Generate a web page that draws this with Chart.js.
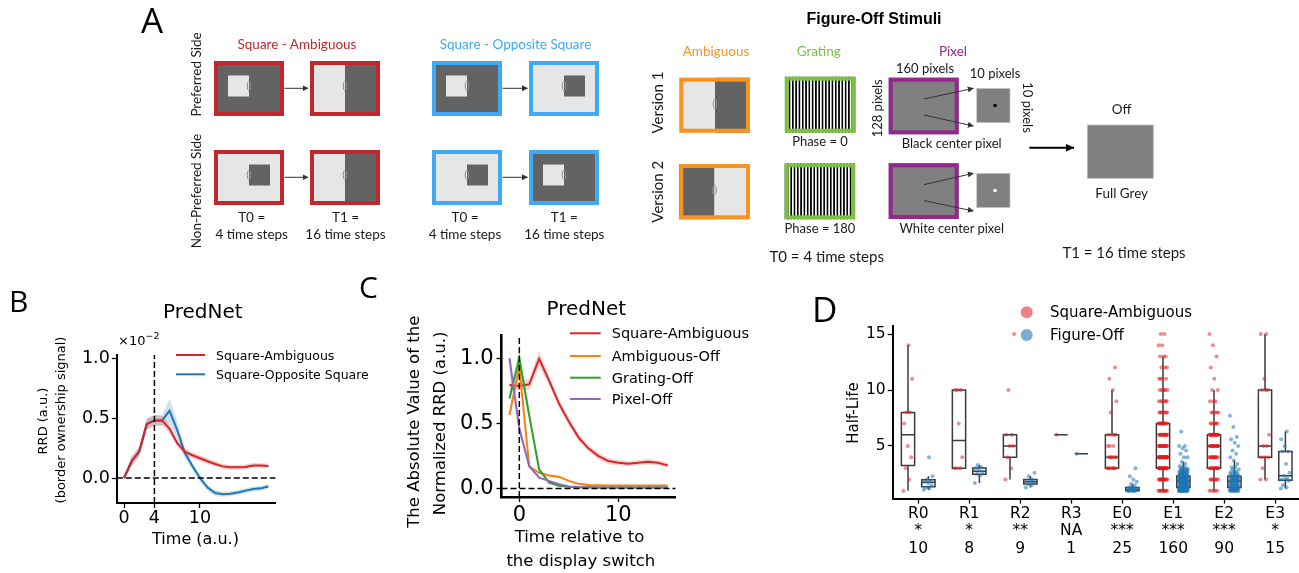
<!DOCTYPE html>
<html>
<head>
<meta charset="utf-8">
<script src="https://cdn.jsdelivr.net/npm/chart.js"></script>
<style>
  html, body { margin: 0; padding: 0; background: #fff; overflow: hidden; }
  #page { position: relative; width: 1299px; height: 573px; overflow: hidden; }
  canvas.plot { position: absolute; }
  #overlay { position: absolute; left: 0; top: 0; z-index: 2; pointer-events: none; }
</style>
</head>
<body>
<div id="page">
  <canvas id="chartB" class="plot"></canvas>
  <canvas id="chartC" class="plot"></canvas>
  <canvas id="chartD" class="plot"></canvas>
  <svg id="overlay" width="1299" height="573"></svg>
</div>
<script>
// ---------- panel B: RRD time course (x 1e-2) ----------
const bTime = [0, 1, 2, 3, 4, 5, 6, 7, 8, 9, 10, 11, 12, 13, 14, 15, 16, 17, 18, 19];
const bSquareAmbiguous = [0, 0.14, 0.22, 0.45, 0.48, 0.48, 0.41, 0.29, 0.22, 0.19, 0.165, 0.14, 0.117, 0.097, 0.089, 0.089, 0.092, 0.105, 0.105, 0.10];
const bSquareAmbiguousSem = [0.01, 0.04, 0.04, 0.045, 0.045, 0.04, 0.035, 0.03, 0.03, 0.025, 0.025, 0.025, 0.02, 0.02, 0.02, 0.02, 0.02, 0.02, 0.02, 0.02];
const bSquareOpposite = [0, 0.14, 0.22, 0.45, 0.48, 0.48, 0.56, 0.40, 0.21, 0.10, 0.0, -0.08, -0.125, -0.135, -0.13, -0.12, -0.105, -0.092, -0.086, -0.07];
const bSquareOppositeSem = [0.01, 0.04, 0.04, 0.045, 0.045, 0.04, 0.10, 0.07, 0.04, 0.03, 0.03, 0.025, 0.025, 0.02, 0.02, 0.02, 0.02, 0.02, 0.02, 0.02];

// ---------- panel C: |normalized RRD| around the display switch ----------
const cTime = [-1, 0, 1, 2, 3, 4, 5, 6, 7, 8, 9, 10, 11, 12, 13, 14, 15];
const cSquareAmbiguous = [0.795, 0.787, 0.80, 0.995, 0.83, 0.653, 0.514, 0.39, 0.306, 0.248, 0.21, 0.197, 0.19, 0.197, 0.205, 0.197, 0.177];
const cSquareAmbiguousSem = [0.03, 0.035, 0.045, 0.06, 0.04, 0.035, 0.03, 0.03, 0.025, 0.025, 0.025, 0.02, 0.02, 0.02, 0.02, 0.02, 0.02];
const cAmbiguousOff = [0.565, 0.93, 0.17, 0.12, 0.10, 0.09, 0.058, 0.035, 0.026, 0.024, 0.023, 0.023, 0.022, 0.022, 0.022, 0.022, 0.022];
const cAmbiguousOffSem = [0.04, 0.04, 0.012, 0.01, 0.01, 0.01, 0.008, 0.006, 0.005, 0.005, 0.005, 0.005, 0.005, 0.005, 0.005, 0.005, 0.005];
const cGratingOff = [0.69, 1.0, 0.56, 0.147, 0.045, 0.02, 0.012, 0.009, 0.008, 0.007, 0.007, 0.007, 0.007, 0.007, 0.007, 0.007, 0.007];
const cGratingOffSem = [0.04, 0.07, 0.03, 0.012, 0.008, 0.005, 0.004, 0.004, 0.004, 0.004, 0.004, 0.004, 0.004, 0.004, 0.004, 0.004, 0.004];
const cPixelOff = [1.0, 0.46, 0.17, 0.083, 0.058, 0.033, 0.015, 0.01, 0.008, 0.007, 0.007, 0.007, 0.007, 0.007, 0.007, 0.007, 0.007];
const cPixelOffSem = [0.1, 0.04, 0.012, 0.008, 0.006, 0.005, 0.004, 0.004, 0.004, 0.004, 0.004, 0.004, 0.004, 0.004, 0.004, 0.004, 0.004];

// ---------- panel D: half-life per layer, [value, number of units] ----------
const dCategories = ['R0', 'R1', 'R2', 'R3', 'E0', 'E1', 'E2', 'E3'];
const dStars = ['*', '*', '**', 'NA', '***', '***', '***', '*'];
const dCounts = [10, 8, 9, 1, 25, 160, 90, 15];
const halfLifeSquareAmbiguous = [
  [[1, 1], [2, 1], [3, 1], [4, 1], [5, 1], [7, 1], [8, 2], [11, 1], [14, 1]],
  [[3, 3], [4, 1], [7, 1], [10, 3]],
  [[2, 1], [3, 1], [4, 1], [5, 2], [6, 2], [10, 1], [15, 1]],
  [[6, 1]],
  [[3, 7], [4, 6], [5, 3], [6, 4], [8, 1], [9, 1], [10, 1], [11, 1], [12, 1]],
  [[1, 10], [2, 14], [3, 22], [4, 36], [5, 18], [6, 14], [7, 12], [8, 8], [9, 6], [10, 6], [11, 4], [12, 3], [13, 3], [14, 2], [15, 2]],
  [[1, 5], [2, 8], [3, 12], [4, 12], [5, 14], [6, 18], [7, 6], [8, 5], [9, 3], [10, 2], [11, 1], [12, 1], [13, 1], [14, 1], [15, 1]],
  [[2, 2], [3, 1], [4, 3], [5, 2], [6, 1], [10, 3], [11, 1], [15, 2]]
];
const halfLifeFigureOff = [
  [[1.1, 1], [1.2, 1], [1.3, 1], [1.5, 1], [1.7, 1], [1.8, 1], [1.9, 1], [2.0, 1], [2.3, 1], [4.0, 1]],
  [[1.7, 1], [2.4, 1], [2.5, 1], [2.7, 1], [2.8, 1], [3.0, 1], [3.1, 1], [3.3, 1]],
  [[1.3, 1], [1.5, 1], [1.6, 1], [1.8, 2], [1.9, 1], [2.0, 1], [2.3, 1], [2.6, 1]],
  [[4.3, 1]],
  [[1.0, 7], [1.1, 6], [1.2, 4], [1.3, 2], [1.5, 1], [1.6, 1], [1.8, 1], [2.0, 1], [2.3, 1], [3.0, 1]],
  [[1.0, 18], [1.1, 12], [1.2, 8], [1.3, 6], [1.4, 6], [1.5, 8], [1.6, 7], [1.7, 7], [1.8, 8], [1.9, 6], [2.0, 8], [2.1, 6], [2.2, 8], [2.3, 12],
   [2.4, 5], [2.5, 5], [2.6, 4], [2.7, 4], [2.8, 4], [2.9, 3], [3.0, 3], [3.2, 2], [3.4, 1], [3.6, 1], [4.0, 2], [4.3, 1], [4.6, 1], [4.8, 1], [5.0, 2], [6.3, 1]],
  [[1.0, 10], [1.1, 6], [1.2, 4], [1.3, 4], [1.4, 4], [1.5, 5], [1.6, 4], [1.7, 4], [1.8, 4], [1.9, 4], [2.0, 5], [2.1, 4], [2.2, 4], [2.3, 6],
   [2.5, 4], [2.7, 3], [2.9, 2], [3.1, 2], [3.4, 1], [3.7, 1], [4.0, 1], [4.3, 1], [4.6, 1], [5.0, 1], [5.3, 1], [5.6, 1], [5.8, 1], [6.7, 1], [7.7, 1]],
  [[1.2, 1], [1.3, 1], [1.5, 1], [1.9, 1], [2.0, 2], [2.1, 1], [2.35, 1], [2.6, 1], [3.4, 1], [4.5, 2], [5.0, 1], [5.6, 1], [6.3, 1]]
];

Chart.defaults.font.family = 'DejaVu Sans';
Chart.defaults.color = '#000';

// put the canvas at box=[left, top, w, h] and keep the plot area at area=[x0, y0, x1, y1]
function fixedArea(id, box, area) {
  const cv = document.getElementById(id);
  cv.width = box[2];
  cv.height = box[3];
  cv.style.left = box[0] + 'px';
  cv.style.top = box[1] + 'px';
  return {
    padding: { left: 0, top: area[1] - box[1], right: box[0] + box[2] - area[2], bottom: 0 },
    yWidth: area[0] - box[0],
    xHeight: box[1] + box[3] - area[3]
  };
}

function linearAxis(min, max, tickValues, o) {
  return {
    type: 'linear', min: min, max: max,
    afterBuildTicks: s => { s.ticks = tickValues.map(v => ({ value: v })); },
    afterFit: s => {
      if (o.width != null) s.width = o.width;
      if (o.height != null) s.height = o.height;
    },
    ticks: {
      color: '#000', padding: o.pad, autoSkip: false, maxRotation: 0,
      font: { family: 'DejaVu Sans', size: o.size, lineHeight: o.lineHeight || 1.2 },
      callback: o.format
    },
    grid: { drawOnChartArea: false, drawTicks: true, tickLength: 5, tickWidth: 1.3, tickColor: '#000' },
    border: { display: true, color: '#000', width: o.spine || 2 }
  };
}

function rgba(hex, a) {
  const n = parseInt(hex.slice(1), 16);
  return `rgba(${n >> 16},${(n >> 8) & 255},${n & 255},${a})`;
}

// a mean line plus its shaded band (upper edge, then lower edge filled to it)
function lineWithBand(xs, ys, err, color, alpha) {
  const pts = arr => arr.map((v, i) => ({ x: xs[i], y: v }));
  const none = 'rgba(0,0,0,0)';
  return {
    line: { data: pts(ys), borderColor: color, borderWidth: 2, pointRadius: 0, fill: false, tension: 0 },
    band: [
      { data: pts(ys.map((v, i) => v + err[i])), borderColor: none, borderWidth: 1, pointRadius: 0, fill: false },
      { data: pts(ys.map((v, i) => v - err[i])), borderColor: none, borderWidth: 1, pointRadius: 0, fill: '-1', backgroundColor: rgba(color, alpha) }
    ]
  };
}

function dashed(points) {
  return { data: points, borderColor: '#000', borderWidth: 1.5, borderDash: [6, 3], pointRadius: 0, fill: false };
}

const quiet = { legend: { display: false }, tooltip: { enabled: false } };

// ---------- chart B ----------
{
  const xMin = -0.95, xMax = 19.95, yMin = -0.208, yMax = 1.025;
  const L = fixedArea('chartB', [60, 335, 240, 200], [116.8, 355, 275.6, 503]);
  const red = lineWithBand(bTime, bSquareAmbiguous, bSquareAmbiguousSem, '#d62728', 0.22);
  const blue = lineWithBand(bTime, bSquareOpposite, bSquareOppositeSem, '#1f77b4', 0.22);
  new Chart(document.getElementById('chartB'), {
    type: 'line',
    data: {
      datasets: [
        dashed([{ x: 4, y: yMin }, { x: 4, y: yMax }]),
        dashed([{ x: xMin, y: 0 }, { x: xMax, y: 0 }]),
        red.line, blue.line,
        ...red.band, ...blue.band
      ]
    },
    options: {
      responsive: false, animation: false, layout: { padding: L.padding }, plugins: quiet,
      scales: {
        x: linearAxis(xMin, xMax, [0, 4, 10], { height: L.xHeight, size: 17.5, pad: 0, format: v => String(v) }),
        y: linearAxis(yMin, yMax, [0, 0.5, 1.0], { width: L.yWidth, size: 17.5, pad: 2, format: v => v.toFixed(1) })
      }
    }
  });
}

// ---------- chart C ----------
{
  const xMin = -1.8, xMax = 15.8, yMin = -0.066, yMax = 1.174;
  const L = fixedArea('chartC', [445, 320, 245, 210], [501.5, 333, 675.7, 497]);
  const sq = lineWithBand(cTime, cSquareAmbiguous, cSquareAmbiguousSem, '#d62728', 0.2);
  const amb = lineWithBand(cTime, cAmbiguousOff, cAmbiguousOffSem, '#ff7f0e', 0.2);
  const grat = lineWithBand(cTime, cGratingOff, cGratingOffSem, '#2ca02c', 0.2);
  const pix = lineWithBand(cTime, cPixelOff, cPixelOffSem, '#9467bd', 0.2);
  new Chart(document.getElementById('chartC'), {
    type: 'line',
    data: {
      datasets: [
        dashed([{ x: 0, y: yMin }, { x: 0, y: yMax }]),
        dashed([{ x: xMin, y: 0 }, { x: xMax, y: 0 }]),
        pix.line, grat.line, amb.line, sq.line,
        ...sq.band, ...amb.band, ...grat.band, ...pix.band
      ]
    },
    options: {
      responsive: false, animation: false, layout: { padding: L.padding }, plugins: quiet,
      scales: {
        x: linearAxis(xMin, xMax, [0, 10], { height: L.xHeight, size: 21, pad: 0.5, spine: 2.6, format: v => String(v) }),
        y: linearAxis(yMin, yMax, [0, 0.5, 1.0], { width: L.yWidth, size: 21, pad: 3, spine: 2.6, format: v => v.toFixed(1) })
      }
    }
  });
}

// ---------- chart D ----------
function expand(tally) {
  const out = [];
  tally.forEach(([v, n]) => { for (let k = 0; k < n; k++) out.push(v); });
  return out;
}
function quantile(s, q) {
  const pos = (s.length - 1) * q, lo = Math.floor(pos), hi = Math.ceil(pos);
  return s[lo] + (s[hi] - s[lo]) * (pos - lo);
}
function boxStats(values) {
  const s = values.slice().sort((a, b) => a - b);
  const q1 = quantile(s, 0.25), med = quantile(s, 0.5), q3 = quantile(s, 0.75), iqr = q3 - q1;
  const lo = s.find(v => v >= q1 - 1.5 * iqr);
  const hi = s.slice().reverse().find(v => v <= q3 + 1.5 * iqr);
  return { q1, med, q3, lo, hi };
}
const boxOffset = 0.2, boxWidth = 0.26, jitter = 0.09;

function stripPoints(groups, offset) {
  const pts = [];
  groups.forEach((tally, i) => {
    expand(tally).forEach((v, k) => {
      const j = ((k * 0.6180339887) % 1 - 0.5) * 2 * jitter;
      pts.push({ x: i + offset + j, y: v });
    });
  });
  return pts;
}

const boxPlugin = {
  id: 'halfLifeBoxes',
  beforeDatasetsDraw(chart) {
    const { ctx, scales: { x, y } } = chart;
    ctx.save();
    ctx.strokeStyle = '#3c3c3c';
    ctx.lineWidth = 1.5;
    [[halfLifeSquareAmbiguous, -boxOffset], [halfLifeFigureOff, boxOffset]].forEach(([groups, off]) => {
      groups.forEach((tally, i) => {
        const st = boxStats(expand(tally));
        const xl = x.getPixelForValue(i + off - boxWidth / 2);
        const xr = x.getPixelForValue(i + off + boxWidth / 2);
        const xc = x.getPixelForValue(i + off);
        const yq1 = y.getPixelForValue(st.q1), yq3 = y.getPixelForValue(st.q3);
        ctx.beginPath();
        ctx.rect(xl, yq3, xr - xl, yq1 - yq3);
        ctx.moveTo(xl, y.getPixelForValue(st.med));
        ctx.lineTo(xr, y.getPixelForValue(st.med));
        ctx.moveTo(xc, yq3);
        ctx.lineTo(xc, y.getPixelForValue(st.hi));
        ctx.moveTo(xc, yq1);
        ctx.lineTo(xc, y.getPixelForValue(st.lo));
        ctx.stroke();
      });
    });
    ctx.restore();
  }
};

{
  const L = fixedArea('chartD', [840, 310, 480, 260], [892.7, 326.2, 1300.7, 498.6]);
  new Chart(document.getElementById('chartD'), {
    type: 'scatter',
    data: {
      datasets: [
        { data: stripPoints(halfLifeSquareAmbiguous, -boxOffset), backgroundColor: 'rgba(228,26,28,0.5)', borderWidth: 0, pointRadius: 2 },
        { data: stripPoints(halfLifeFigureOff, boxOffset), backgroundColor: 'rgba(31,119,180,0.55)', borderWidth: 0, pointRadius: 2 }
      ]
    },
    options: {
      responsive: false, animation: false, layout: { padding: L.padding }, plugins: quiet,
      scales: {
        x: linearAxis(-0.5, 7.5, [0, 1, 2, 3, 4, 5, 6, 7], {
          height: L.xHeight, size: 15.5, lineHeight: 1.15, pad: 1,
          format: (v, i) => [dCategories[i], dStars[i], String(dCounts[i])]
        }),
        y: linearAxis(0.3, 15.7, [5, 10, 15], { width: L.yWidth, size: 15.5, pad: 2, format: v => String(v) })
      }
    },
    plugins: [boxPlugin]
  });
}

// ---------- text, legends and the stimulus sketches ----------
const NS = 'http://www.w3.org/2000/svg';
const svg = document.getElementById('overlay');
function add(tag, attrs, parent, content) {
  const e = document.createElementNS(NS, tag);
  for (const k in attrs) e.setAttribute(k, attrs[k]);
  if (content != null) e.textContent = content;
  (parent || svg).appendChild(e);
  return e;
}
function text(str, x, y, size, o = {}) {
  const a = {
    x: x, y: y, 'font-size': size, 'font-family': o.family || 'Lato', fill: o.color || '#1a1a1a',
    'text-anchor': o.anchor || 'middle', 'dominant-baseline': o.baseline || 'central'
  };
  if (o.weight) a['font-weight'] = o.weight;
  if (o.rotate) a.transform = `rotate(${o.rotate} ${x} ${y})`;
  return add('text', a, null, str);
}
const dv = (extra) => Object.assign({ family: 'DejaVu Sans', color: '#000' }, extra || {});

// panel letters
text('A', 141, 33, 35, { family: 'Open Sans', anchor: 'start', baseline: 'alphabetic', color: '#000' });
text('B', 9, 311.7, 30, { family: 'Open Sans', anchor: 'start', baseline: 'alphabetic', color: '#000' });
text('C', 359, 298, 30, { family: 'Open Sans', anchor: 'start', baseline: 'alphabetic', color: '#000' });
text('D', 812, 321.7, 35, { family: 'Open Sans', anchor: 'start', baseline: 'alphabetic', color: '#000' });

// B labels
text('PredNet', 202.8, 310.8, 20, dv());
text('Time (a.u.)', 195.5, 538.3, 16, dv());
text('RRD (a.u.)', 42.5, 421, 13, dv({ rotate: -90 }));
text('(border ownership signal)', 60, 420, 13, dv({ rotate: -90 }));
const expo = text('×10', 118, 345, 13, dv({ anchor: 'start', baseline: 'alphabetic' }));
add('tspan', { dy: -6, 'font-size': 9.5 }, expo, '−2');
[['Square-Ambiguous', '#d62728', 355], ['Square-Opposite Square', '#1f77b4', 374.3]].forEach(([s, c, y]) => {
  add('line', { x1: 176, y1: y, x2: 205, y2: y, stroke: c, 'stroke-width': 2 });
  text(s, 216, y, 12.5, dv({ anchor: 'start' }));
});

// C labels
text('PredNet', 586.3, 308.3, 20, dv());
text('Time relative to', 579.5, 536.7, 16.5, dv());
text('the display switch', 580.8, 560.7, 16.5, dv());
text('The Absolute Value of the', 413.3, 421.7, 16.5, dv({ rotate: -90 }));
text('Normalized RRD (a.u.)', 440, 423.3, 16.5, dv({ rotate: -90 }));
[['Square-Ambiguous', '#d62728', 333.3], ['Ambiguous-Off', '#ff7f0e', 356], ['Grating-Off', '#2ca02c', 377.7], ['Pixel-Off', '#9467bd', 399]].forEach(([s, c, y]) => {
  add('line', { x1: 570, y1: y, x2: 600.7, y2: y, stroke: c, 'stroke-width': 2 });
  text(s, 611.7, y, 14.5, dv({ anchor: 'start' }));
});

// D labels
text('Half-Life', 853, 413, 15, dv({ rotate: -90 }));
[['Square-Ambiguous', 'rgba(228,26,28,0.55)', 312.3], ['Figure-Off', 'rgba(31,119,180,0.6)', 335]].forEach(([s, c, y]) => {
  add('circle', { cx: 1026.7, cy: y, r: 6, fill: c });
  text(s, 1050, y, 15, dv({ anchor: 'start' }));
});

// stimulus sketches
const RED_A = '#c1272d', BLUE_A = '#3fa9f5', ORANGE_A = '#f7931e', GREEN_A = '#7ac143', PURPLE_A = '#93278f';
const LIGHT = '#e6e6e6', DARK = '#636363', MID = '#808080';
const defs = add('defs', {});
const headS = add('marker', { id: 'headS', markerUnits: 'userSpaceOnUse', markerWidth: 6, markerHeight: 6, refX: 5.5, refY: 3, orient: 'auto' }, defs);
add('path', { d: 'M0,0 L6,3 L0,6 z', fill: '#333' }, headS);
const headM = add('marker', { id: 'headM', markerUnits: 'userSpaceOnUse', markerWidth: 9, markerHeight: 8, refX: 8.5, refY: 4, orient: 'auto' }, defs);
add('path', { d: 'M0,0 L9,4 L0,8 z', fill: '#000' }, headM);
[['grating0', 788.7], ['grating180', 788.7 + 1.65]].forEach(([id, x0]) => {
  const p = add('pattern', { id: id, patternUnits: 'userSpaceOnUse', x: x0, y: 0, width: 3.3, height: 10 }, defs);
  add('rect', { x: 0, y: 0, width: 1.65, height: 10, fill: '#000' }, p);
  add('rect', { x: 1.65, y: 0, width: 1.65, height: 10, fill: '#fff' }, p);
});

function rect(x, y, w, h, color) { add('rect', { x: x, y: y, width: w, height: h, fill: color }); }
function frame(x, y, w, h, color) {
  add('rect', { x: x + 2, y: y + 2, width: w - 4, height: h - 4, fill: 'none', stroke: color, 'stroke-width': 4 });
}
function rf(cx, cy) { add('ellipse', { cx: cx, cy: cy, rx: 1.8, ry: 4.6, fill: 'none', stroke: '#8f8f8f', 'stroke-width': 1 }); }
function squareStim(x, y, color, bg, sq, side) {
  const cx = x + 35;
  rect(x, y, 70, 55, bg);
  rect(side === 'left' ? cx - 21 : cx, y + 14.5, 21, 21, sq);
  frame(x, y, 70, 55, color);
  rf(cx, y + 25);
}
function splitStim(x, y, w, h, color, left, right, split, rfY) {
  rect(x, y, split - x, h, left);
  rect(split, y, x + w - split, h, right);
  frame(x, y, w, h, color);
  rf(split, rfY);
}
function arrow(x1, y1, x2, y2, big) {
  add('line', { x1: x1, y1: y1, x2: x2, y2: y2, stroke: big ? '#000' : '#333', 'stroke-width': big ? 2 : 1, 'marker-end': big ? 'url(#headM)' : 'url(#headS)' });
}

// square-ambiguous / square-opposite square sequences
squareStim(214, 61, RED_A, DARK, LIGHT, 'left');
splitStim(310, 61, 70, 55, RED_A, LIGHT, DARK, 345, 86);
squareStim(432, 61, BLUE_A, DARK, LIGHT, 'left');
squareStim(529, 61, BLUE_A, LIGHT, DARK, 'right');
squareStim(214, 150, RED_A, LIGHT, DARK, 'right');
splitStim(310, 150, 70, 55, RED_A, LIGHT, DARK, 345, 175);
squareStim(432, 150, BLUE_A, LIGHT, DARK, 'right');
squareStim(529, 150, BLUE_A, DARK, LIGHT, 'left');
[88.3, 177.3].forEach(y => { arrow(284.5, y, 308, y); arrow(502.5, y, 527.5, y); });

text('Square - Ambiguous', 297, 44, 13.5, { color: RED_A });
text('Square - Opposite Square', 515.5, 44, 13.5, { color: BLUE_A });
text('Preferred Side', 196, 74.5, 13.5, { rotate: -90 });
text('Non-Preferred Side', 196, 191, 13.5, { rotate: -90 });
[[251.7, 'T0 =', '4 time steps'], [345.5, 'T1 =', '16 time steps'], [465, 'T0 =', '4 time steps'], [564.3, 'T1 =', '16 time steps']].forEach(([x, a, b]) => {
  text(a, x, 217, 13.5);
  text(b, x, 234, 13.5);
});

// figure-off stimuli
text('Figure-Off Stimuli', 874, 18, 16, { family: 'Liberation Sans', weight: 'bold', color: '#000' });
text('Ambiguous', 716, 51, 13.5, { color: ORANGE_A });
text('Grating', 818.7, 51, 13.5, { color: GREEN_A });
text('Pixel', 953, 51, 13.5, { color: PURPLE_A });
text('Version 1', 656.7, 102.5, 15, { rotate: -90 });
text('Version 2', 656.7, 191.7, 15, { rotate: -90 });

splitStim(679.3, 77.7, 70.7, 55, ORANGE_A, LIGHT, DARK, 715, 104);
splitStim(679.3, 164, 70.7, 55.3, ORANGE_A, DARK, LIGHT, 714.5, 190);

add('rect', { x: 784.7, y: 76.7, width: 70.6, height: 56, fill: 'url(#grating0)' });
frame(784.7, 76.7, 70.6, 56, GREEN_A);
add('rect', { x: 784.7, y: 163.3, width: 70.6, height: 56, fill: 'url(#grating180)' });
frame(784.7, 163.3, 70.6, 56, GREEN_A);
text('Phase = 0', 820, 140.7, 13);
text('Phase = 180', 820, 228.3, 13);

[[77.7, 56.6, 88.3, '#000'], [163.3, 55.7, 173.3, '#fff']].forEach(([y, h, sy, dot]) => {
  rect(888.7, y, 70, h, MID);
  frame(888.7, y, 70, h, PURPLE_A);
  add('rect', { x: 976.7, y: sy, width: 33.3, height: 34.4, fill: MID, stroke: '#c8c8c8', 'stroke-width': 0.8 });
  rect(993.5, sy + 17.2 - 1.5, 3, 3, dot);
  arrow(924, y + 21.3, 973.3, sy);
  arrow(924, y + 37.3, 973.3, sy + 37.7);
});
text('160 pixels', 925, 68.3, 13);
text('10 pixels', 995, 72.7, 13);
text('128 pixels', 876.7, 108.3, 13, { rotate: -90 });
text('10 pixels', 1027.5, 107.5, 13, { rotate: 90 });
text('Black center pixel', 951.7, 142.7, 13);
text('White center pixel', 951.7, 228.3, 13);
text('T0 = 4 time steps', 826.7, 255.7, 15);

arrow(1029.3, 147.7, 1074, 147.7, true);
add('rect', { x: 1087.3, y: 125, width: 66, height: 53.3, fill: MID, stroke: '#bdbdbd', 'stroke-width': 0.8 });
text('Off', 1121.7, 109.3, 13.5);
text('Full Grey', 1121.7, 192.7, 13.5);
text('T1 = 16 time steps', 1124, 251.7, 15);
</script>
</body>
</html>
